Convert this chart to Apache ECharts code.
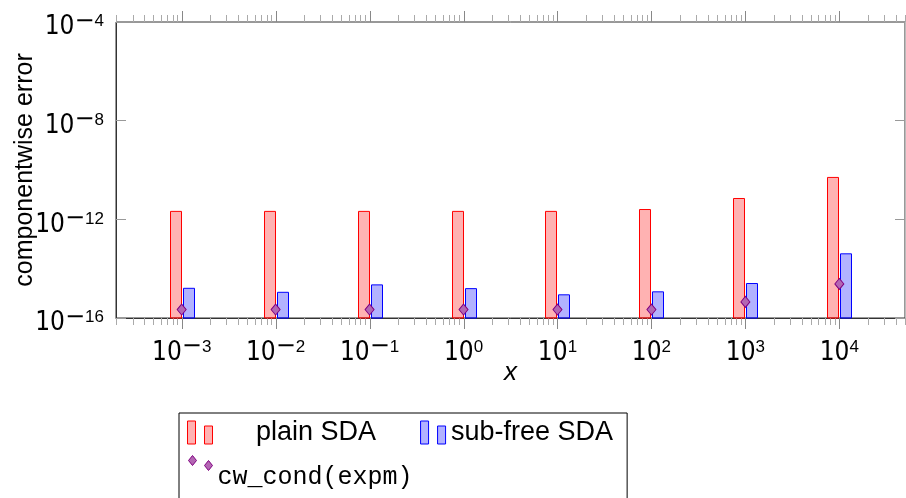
<!DOCTYPE html>
<html>
<head>
<meta charset="utf-8">
<title>componentwise error</title>
<script src="https://cdn.jsdelivr.net/npm/echarts@6/dist/echarts.min.js"></script>
<style>
html,body{margin:0;padding:0;background:#fff;}
#chart{width:906px;height:498px;}
</style>
</head>
<body>
<div id="chart"></div>
<script>
// data
var xValues = [1e-3, 1e-2, 1e-1, 1, 10, 100, 1000, 10000];
var plainSDA = [2.1e-12, 2.1e-12, 2.1e-12, 2.1e-12, 2.1e-12, 2.5e-12, 7e-12, 5e-11];
var subFreeSDA = [1.6e-15, 1.1e-15, 2.2e-15, 1.55e-15, 8.7e-16, 1.15e-15, 2.5e-15, 4e-14];
var cwCond = [2.2e-16, 2.2e-16, 2.2e-16, 2.2e-16, 2.2e-16, 2.2e-16, 4.5e-16, 2.4e-15];

var xMin = 2e-4, xMax = 5e4;
var yMin = 1e-16, yMax = 1e-4;

var numFont = "'Liberation Sans Narrow', 'DejaVu Sans Condensed', sans-serif";
var textFont = "'Liberation Sans', sans-serif";
var monoFont = "'Liberation Mono', 'DejaVu Sans Mono', monospace";

// minor + major tick positions of the log x axis (1..9 x 10^k)
var xTicks = [];
for (var e = -4; e <= 4; e++) {
	for (var m = 1; m <= 9; m++) {
		var v = m * Math.pow(10, e);
		if (v >= xMin * 0.999 && v <= xMax * 1.001) xTicks.push([v, m === 1 ? 1 : 0]);
	}
}

function pow10Label(val) {
	var ex = Math.round(Math.log10(val));
	if (Math.abs(Math.log10(val) - ex) > 1e-6) return '';
	if (ex < 0) return '{b|10}{m|\u2212}{s|' + (-ex) + '}';
	return '{b|10}{s|' + ex + '}';
}
var labelRich = {
	b: {fontFamily: numFont, fontSize: 26, lineHeight: 26, color: '#000'},
	m: {fontFamily: "'DejaVu Sans', sans-serif", fontSize: 24, lineHeight: 14, padding: [0, 0, 12, 0], color: '#000'},
	s: {fontFamily: textFont, fontSize: 17, lineHeight: 14, padding: [0, 0, 12, 0], color: '#000'}
};

function barItem(side, fill, stroke) {
	return function(params, api) {
		var p = api.coord([api.value(0), api.value(1)]);
		var b = api.coord([api.value(0), yMin]);
		var x0 = side < 0 ? p[0] - 12 : p[0] + 1;
		return {
			type: 'rect',
			shape: {x: Math.round(x0) + 0.5, y: p[1], width: 11, height: b[1] - p[1]},
			style: {fill: fill, stroke: stroke, lineWidth: 1}
		};
	};
}

function tickItem(params, api) {
	var v = api.value(0), major = api.value(1);
	var b = api.coord([v, yMin]), t = api.coord([v, yMax]);
	var len = major ? 11 : 7;
	var x = Math.round(b[0]) + 0.5;
	var st = {stroke: major ? '#888' : '#aaa', lineWidth: 1};
	return {type: 'group', children: [
		{type: 'line', shape: {x1: x, y1: b[1], x2: x, y2: b[1] + len}, style: st},
		{type: 'line', shape: {x1: x, y1: t[1], x2: x, y2: t[1] - len}, style: st}
	]};
}

function pairs(ys) {
	return xValues.map(function(x, i) { return [x, ys[i]]; });
}

var chart = echarts.init(document.getElementById('chart'));
var option = {
	animation: false,
	grid: {left: 116, right: 1, top: 22, bottom: 180, outerBoundsMode: 'none', containLabel: false,
		show: true, borderColor: '#333', borderWidth: 1, backgroundColor: 'transparent'},
	xAxis: {
		type: 'log', min: xMin, max: xMax,
		name: 'x', nameLocation: 'middle', nameGap: 42, nameMoveOverlap: false,
		nameTextStyle: {fontFamily: textFont, fontStyle: 'italic', fontSize: 26, color: '#000'},
		axisLine: {lineStyle: {color: '#333'}},
		axisTick: {show: false},
		splitLine: {show: false},
		axisLabel: {margin: 22, formatter: pow10Label, rich: labelRich}
	},
	yAxis: [{
		type: 'log', min: yMin, max: yMax, interval: 4,
		name: 'componentwise error', nameLocation: 'middle', nameGap: 78, nameMoveOverlap: false,
		nameTextStyle: {fontFamily: textFont, fontSize: 25, color: '#000'},
		axisLine: {lineStyle: {color: '#333'}},
		axisTick: {inside: true, length: 10, lineStyle: {color: '#999'}},
		splitLine: {show: false},
		axisLabel: {margin: 12, padding: [11, 0, 0, 0], formatter: pow10Label, rich: labelRich}
	}, {
		type: 'log', min: yMin, max: yMax, interval: 4, position: 'right',
		axisLine: {show: true, lineStyle: {color: '#bbb'}},
		axisTick: {inside: true, length: 10, lineStyle: {color: '#999'}},
		splitLine: {show: false},
		axisLabel: {show: false}
	}],
	legend: [{
		left: 179, top: 413, orient: 'horizontal',
		padding: [6, 14, 90, 8],
		backgroundColor: '#fff', borderColor: '#000', borderWidth: 1, borderRadius: 0,
		itemWidth: 26, itemHeight: 23, itemGap: 14,
		selectedMode: false,
		textStyle: {fontFamily: textFont, fontSize: 27, lineHeight: 23, color: '#000'},
		data: [{
			name: 'plain SDA',
			icon: 'path://M0,0H8V23H0Z M17,5H25V23H17Z',
			itemStyle: {color: 'rgba(255,0,0,0.3)', borderColor: '#ff0000', borderWidth: 1},
			textStyle: {padding: [0, 30, 0, 38]}
		}, {
			name: 'sub-free SDA',
			icon: 'path://M0,0H8V23H0Z M17,5H25V23H17Z',
			itemStyle: {color: 'rgba(0,0,255,0.3)', borderColor: '#0000ff', borderWidth: 1}
		}]
	}, {
		left: 188, top: 436, orient: 'horizontal', z: 6,
		padding: 0,
		itemWidth: 24, itemHeight: 15,
		selectedMode: false,
		formatter: '{t|{name}}',
		textStyle: {
			fontFamily: monoFont, fontSize: 25, color: '#000',
			rich: {t: {fontFamily: monoFont, fontSize: 25, lineHeight: 25, padding: [29, 0, 0, 0], color: '#000'}}
		},
		data: [{
			name: 'cw_cond(expm)',
			icon: 'path://M4,0L8,5L4,10L0,5Z M20,5L24,10L20,15L16,10Z',
			itemStyle: {color: '#b366b3', borderColor: '#800080', borderWidth: 1}
		}]
	}],
	series: [{
		name: 'ticks', type: 'custom', silent: true, clip: false, z: 1,
		renderItem: tickItem, data: xTicks
	}, {
		name: 'plain SDA', type: 'custom', z: 3,
		itemStyle: {color: 'rgba(255,0,0,0.3)', borderColor: '#ff0000', borderWidth: 1},
		renderItem: barItem(-1, 'rgba(255,0,0,0.3)', '#ff0000'),
		data: pairs(plainSDA)
	}, {
		name: 'sub-free SDA', type: 'custom', z: 3,
		itemStyle: {color: 'rgba(0,0,255,0.3)', borderColor: '#0000ff', borderWidth: 1},
		renderItem: barItem(1, 'rgba(0,0,255,0.3)', '#0000ff'),
		data: pairs(subFreeSDA)
	}, {
		name: 'cw_cond(expm)', type: 'scatter', z: 4,
		symbol: 'diamond', symbolSize: [9, 11],
		itemStyle: {color: '#b366b3', borderColor: '#800080', borderWidth: 1, opacity: 1},
		data: pairs(cwCond)
	}]
};
chart.setOption(option);
</script>
</body>
</html>
